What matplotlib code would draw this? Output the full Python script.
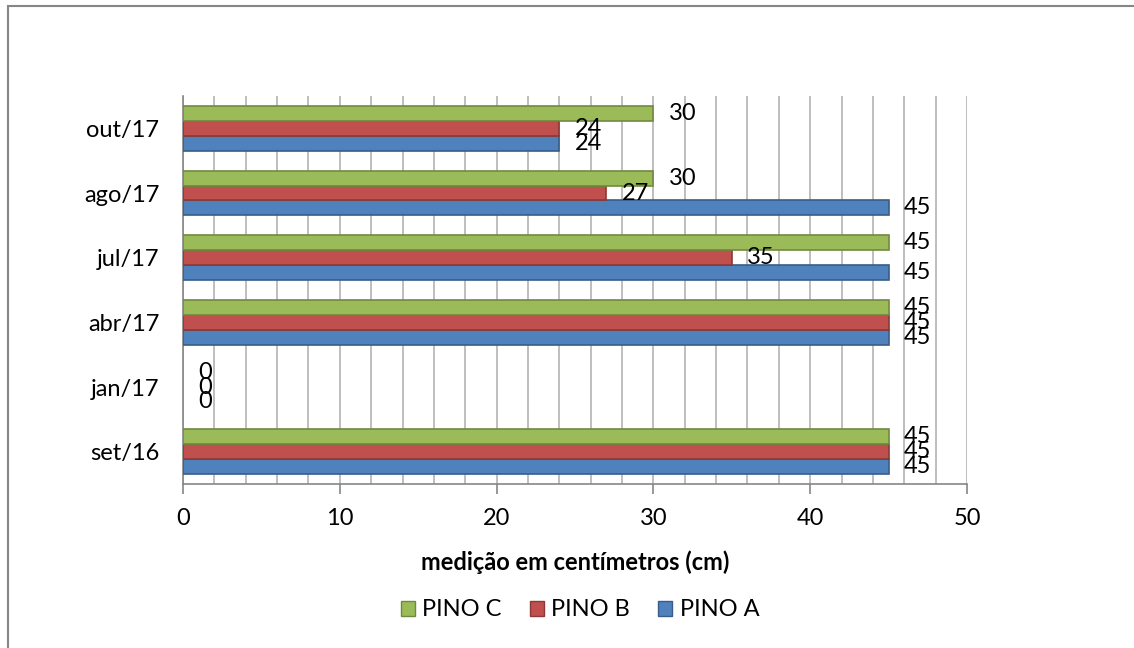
import numpy as np
import matplotlib
matplotlib.use("Agg")
import matplotlib.pyplot as plt
from matplotlib.patches import Rectangle, Patch

plt.rcParams['font.family'] = ['Lato', 'DejaVu Sans']

meses = ['set/16', 'jan/17', 'abr/17', 'jul/17', 'ago/17', 'out/17']
pino_a = [45, 0, 45, 45, 45, 24]
pino_b = [45, 0, 45, 35, 27, 24]
pino_c = [45, 0, 45, 45, 30, 30]
series = ['PINO A', 'PINO B', 'PINO C']
cores = ['#4F81BD', '#C0504D', '#9BBB59']
bordas = ['#385D8A', '#8C3836', '#71893F']

fs = 17

fig = plt.figure(figsize=(11.34, 6.48), dpi=100)
ax = fig.add_axes([183 / 1134, 1 - 484 / 648, 784 / 1134, 388 / 648])

# moldura do gráfico (estilo excel)
fig.patches.append(Rectangle((7.5 / 1134, -0.05), 1.1, 1.05 - 6.5 / 648,
                             transform=fig.transFigure, fill=False,
                             edgecolor='#868686', linewidth=1.5))

y = np.arange(len(meses))
h = 0.23
valores = [pino_a, pino_b, pino_c]
for i, (vals, c, e, nome) in enumerate(zip(valores, cores, bordas, series)):
    pos = y + (i - 1) * h
    bars = ax.barh(pos, vals, height=h, color=c, edgecolor=e, linewidth=1.2,
                   zorder=3, label=nome)
    for b, v in zip(bars, vals):
        if v == 0:
            b.set_linewidth(0)
    for p, v in zip(pos, vals):
        ax.annotate(str(v), (v, p), xytext=(11, 0), textcoords='offset points',
                    ha='left', va='center', fontsize=fs, zorder=5)

ax.set_xlim(0, 50)
ax.set_ylim(-0.5, 5.5)
ax.set_yticks(y)
ax.set_yticklabels(meses, fontsize=fs)
ax.set_xticks(np.arange(0, 51, 10))
ax.set_xticklabels([str(v) for v in range(0, 51, 10)], fontsize=fs)
ax.set_xticks(np.arange(0, 51, 2), minor=True)
ax.grid(True, which='both', axis='x', color='#B3B3B3', linewidth=1.2, zorder=0)
ax.set_axisbelow(True)

for s in ['top', 'right']:
    ax.spines[s].set_visible(False)
ax.spines['left'].set_color('#868686')
ax.spines['bottom'].set_color('#868686')
ax.spines['left'].set_linewidth(1.2)
ax.spines['bottom'].set_linewidth(1.2)
ax.tick_params(axis='y', length=0, pad=17)
ax.tick_params(axis='x', which='major', length=7, color='#868686', width=1.2,
               direction='out', pad=10)
ax.tick_params(axis='x', which='minor', length=0)

ax.set_xlabel('medição em centímetros (cm)', fontsize=fs, fontweight='bold',
              labelpad=16)

leg_handles = [Patch(facecolor=cores[i], edgecolor=bordas[i], label=series[i])
               for i in [2, 1, 0]]
fig.legend(handles=leg_handles, loc='center', bbox_to_anchor=(580 / 1134, 1 - 610 / 648),
           ncol=3, frameon=False, fontsize=fs, handlelength=0.6, handleheight=0.6,
           handletextpad=0.3, columnspacing=1.2)

fig.savefig('out.png', dpi=100)
